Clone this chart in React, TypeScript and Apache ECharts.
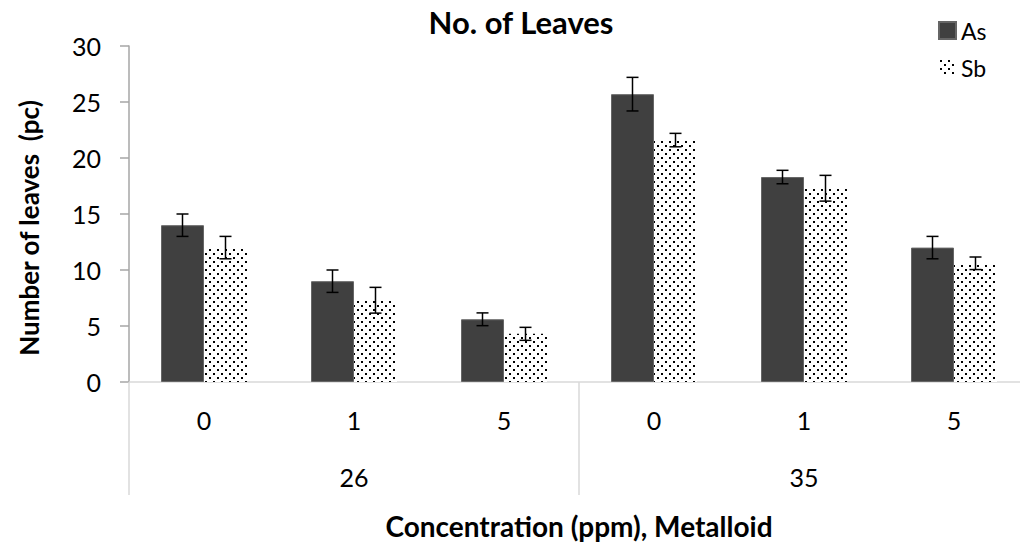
import React, { useEffect, useRef } from "react";
import * as echarts from "echarts";

const doseLabels = ["0", "1", "5", "0", "1", "5"];
const metalloidLabels = ["26", "35"];
const asValues = [14.0, 9.0, 5.6, 25.7, 18.3, 12.0];
const asErrors = [1.0, 1.0, 0.57, 1.5, 0.6, 1.0];
const sbValues = [12.0, 7.3, 4.3, 21.6, 17.3, 10.6];
const sbErrors = [1.0, 1.15, 0.58, 0.6, 1.15, 0.56];
const yTicks = { min: 0, max: 30, interval: 5 };

const FONT = "Lato";

function makeDotPattern(): HTMLCanvasElement {
  const c = document.createElement("canvas");
  c.width = 8;
  c.height = 8;
  const ctx = c.getContext("2d")!;
  ctx.fillStyle = "#ffffff";
  ctx.fillRect(0, 0, 8, 8);
  ctx.fillStyle = "#000000";
  ctx.fillRect(1, 1, 2, 2);
  ctx.fillRect(5, 5, 2, 2);
  return c;
}

export default function App() {
  const ref = useRef<HTMLDivElement>(null);

  useEffect(() => {
    if (!ref.current) return;
    const chart = echarts.init(ref.current, undefined, { renderer: "svg" });
    const pattern = makeDotPattern();
    const barWidth = 43;

    const errSeries = (vals: number[], errs: number[], offset: number, name: string) => ({
      type: "custom",
      name,
      xAxisIndex: 0,
      yAxisIndex: 0,
      z: 10,
      silent: true,
      encode: { x: 0, y: [1, 2] },
      data: vals.map((v, i) => [i, v - errs[i], v + errs[i]]),
      renderItem: (params: any, api: any) => {
        const xi = api.value(0);
        const lo = api.coord([xi, api.value(1)]);
        const hi = api.coord([xi, api.value(2)]);
        const x = lo[0] + offset;
        const cap = 6;
        const style = { stroke: "#000000", lineWidth: 1.5 };
        return {
          type: "group",
          children: [
            { type: "line", shape: { x1: x, y1: lo[1], x2: x, y2: hi[1] }, style },
            { type: "line", shape: { x1: x - cap, y1: lo[1], x2: x + cap, y2: lo[1] }, style },
            { type: "line", shape: { x1: x - cap, y1: hi[1], x2: x + cap, y2: hi[1] }, style },
          ],
        };
      },
    });

    chart.setOption({
      animation: false,
      backgroundColor: "#ffffff",
      title: {
        text: "No. of Leaves",
        left: 516,
        top: 1,
        textAlign: "center",
        textStyle: { fontFamily: FONT, fontWeight: "bold", fontSize: 31, color: "#000000" },
      },
      legend: {
        orient: "vertical",
        left: 938,
        top: 19,
        padding: 0,
        itemWidth: 17,
        itemHeight: 17,
        itemGap: 14,
        icon: "rect",
        data: ["As", "Sb"],
        textStyle: { fontFamily: FONT, fontSize: 23, color: "#000000" },
      },
      grid: { left: 129, top: 46, width: 900, height: 336, containLabel: false, outerBoundsMode: "none" },
      xAxis: [
        {
          type: "category",
          data: doseLabels,
          position: "bottom",
          axisLine: { show: true, lineStyle: { color: "#d9d9d9", width: 1.5 } },
          axisTick: { show: false },
          axisLabel: { margin: 25, fontFamily: FONT, fontSize: 25, color: "#000000" },
          name: "Concentration (ppm), Metalloid",
          nameLocation: "middle",
          nameGap: 130,
          nameTextStyle: { fontFamily: FONT, fontWeight: "bold", fontSize: 28, color: "#000000", verticalAlign: "top" },
        },
        {
          type: "category",
          data: metalloidLabels,
          position: "bottom",
          axisLine: { show: false },
          axisTick: { show: true, length: 113, lineStyle: { color: "#d9d9d9", width: 1.5 } },
          axisLabel: { margin: 82, fontFamily: FONT, fontSize: 25, color: "#000000" },
        },
      ],
      yAxis: {
        type: "value",
        min: yTicks.min,
        max: yTicks.max,
        interval: yTicks.interval,
        axisLine: { show: true, lineStyle: { color: "#a6a6a6", width: 1.5 } },
        axisTick: { show: true, length: 9, lineStyle: { color: "#a6a6a6", width: 1.5 } },
        splitLine: { show: false },
        axisLabel: { margin: 28, fontFamily: FONT, fontSize: 25, color: "#000000" },
      },
      graphic: [
        {
          type: "text",
          x: 29,
          y: 228,
          rotation: Math.PI / 2,
          style: {
            text: "Number of leaves  (pc)",
            fontFamily: FONT,
            fontWeight: "bold",
            fontSize: 26,
            fill: "#000000",
            textAlign: "center",
            textVerticalAlign: "middle",
          },
        },
      ],
      series: [
        {
          type: "bar",
          name: "As",
          data: asValues,
          barWidth,
          barGap: "0%",
          itemStyle: { color: "#404040", borderColor: "#666666", borderWidth: 1 },
        },
        {
          type: "bar",
          name: "Sb",
          data: sbValues,
          barWidth,
          barGap: "0%",
          itemStyle: { color: { image: pattern, repeat: "repeat" } as any },
        },
        errSeries(asValues, asErrors, -barWidth / 2, "As err"),
        errSeries(sbValues, sbErrors, barWidth / 2, "Sb err"),
      ],
    });

    return () => chart.dispose();
  }, []);

  return (
    <div
      ref={ref}
      style={{ position: "fixed", left: 0, top: 0, width: 1020, height: 543, background: "#fff" }}
    />
  );
}
